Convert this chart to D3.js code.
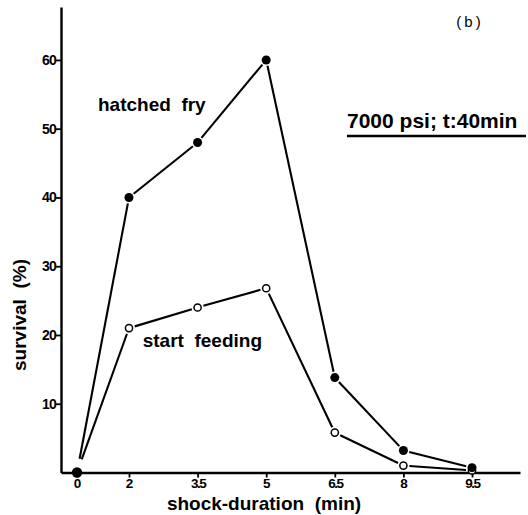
<!DOCTYPE html>
<html><head><meta charset="utf-8">
<script src="https://cdn.jsdelivr.net/npm/d3@7"></script>
<style>
body{margin:0;background:#fff;}
svg{display:block;font-family:"Liberation Sans",Arial,sans-serif;}
</style></head>
<body>
<svg id="chart" width="528" height="515"></svg>
<script>
const durations = [0, 2, 3.5, 5, 6.5, 8, 9.5];
const xTickLabels = ["0", "2", "3.5", "5", "6.5", "8", "9.5"];
const hatchedFry = [0, 40, 48, 60, 13.8, 3.2, 0.7];
const startFeeding = [0, 21, 24, 26.8, 5.8, 1.0, 0.3];
const yTicks = [10, 20, 30, 40, 50, 60];

const svg = d3.select("#chart");
const x = d3.scaleLinear().domain([-0.615, 0, 2, 9.5, 10.55]).range([61, 77, 129, 472, 520]);
const y = d3.scaleLinear().domain([0, 67.7]).range([472.5, 7]);

// axes
const xAxis = d3.axisBottom(x).tickValues(durations)
  .tickFormat((d, i) => xTickLabels[i]).tickSize(5).tickSizeOuter(0).tickPadding(1);
const gx = svg.append("g").attr("transform", "translate(0,472.5)").call(xAxis);
gx.select(".domain").attr("stroke-width", 2.4);
gx.selectAll(".tick line").attr("stroke-width", 1.8);
gx.selectAll(".tick text").attr("font-size", 13.5).attr("font-weight", "bold")
  .attr("font-family", "Liberation Sans, Arial, sans-serif")
  .attr("letter-spacing", (d, i) => xTickLabels[i].length > 1 ? -1.5 : 0);

const yAxis = d3.axisLeft(y).tickValues(yTicks).tickSize(5).tickSizeOuter(0).tickPadding(0);
const gy = svg.append("g").attr("transform", "translate(61,0)").call(yAxis);
gy.select(".domain").attr("stroke-width", 2.4);
gy.selectAll(".tick line").attr("stroke-width", 1.8);
gy.selectAll(".tick text").attr("font-size", 14).attr("font-weight", "bold")
  .attr("font-family", "Liberation Sans, Arial, sans-serif").attr("letter-spacing", -0.8);

// series lines with small gaps near the markers
function drawSeries(vals) {
  const pts = durations.map((d, i) => [x(d), y(vals[i])]);
  const g = svg.append("g");
  for (let i = 0; i < pts.length - 1; i++) {
    const [x1, y1] = pts[i], [x2, y2] = pts[i + 1];
    const len = Math.hypot(x2 - x1, y2 - y1);
    const g1 = i === 0 ? 14 : 6, g2 = 6;
    const ux = (x2 - x1) / len, uy = (y2 - y1) / len;
    g.append("line")
      .attr("x1", x1 + ux * g1).attr("y1", y1 + uy * g1)
      .attr("x2", x2 - ux * g2).attr("y2", y2 - uy * g2)
      .attr("stroke", "#000").attr("stroke-width", 2.1);
  }
  return pts;
}
drawSeries(startFeeding);
drawSeries(hatchedFry);

svg.append("g").selectAll("circle").data(startFeeding).join("circle")
  .attr("cx", (d, i) => x(durations[i])).attr("cy", d => y(d))
  .attr("r", 3.6).attr("fill", "#fff").attr("stroke", "#000").attr("stroke-width", 1.5);
svg.append("g").selectAll("circle").data(hatchedFry).join("circle")
  .attr("cx", (d, i) => x(durations[i])).attr("cy", d => y(d))
  .attr("r", (d, i) => i === 0 ? 5.2 : 4.5).attr("fill", "#000");

// labels
svg.append("text").attr("x", 98).attr("y", 111).attr("font-size", 19).attr("font-weight", "bold")
  .style("white-space", "pre").text("hatched  fry");
svg.append("text").attr("x", 262).attr("y", 347).attr("text-anchor", "end").attr("font-size", 19)
  .attr("font-weight", "bold").style("white-space", "pre").text("start  feeding");
svg.append("text").attr("x", 347).attr("y", 128).attr("font-size", 21)
  .attr("font-weight", "bold").text("7000 psi; t:40min");
svg.append("line").attr("x1", 347).attr("x2", 526).attr("y1", 136).attr("y2", 136)
  .attr("stroke", "#000").attr("stroke-width", 2.6);
svg.append("text").attr("x", 470).attr("y", 27).attr("text-anchor", "middle").attr("font-size", 15)
  .attr("letter-spacing", 3).text("(b)");
svg.append("text").attr("x", 264).attr("y", 510).attr("text-anchor", "middle").attr("font-size", 19)
  .attr("font-weight", "bold").style("white-space", "pre").text("shock-duration  (min)");
svg.append("text").attr("transform", "translate(26,315) rotate(-90)").attr("text-anchor", "middle")
  .attr("font-size", 19).attr("font-weight", "bold").style("white-space", "pre").text("survival  (%)");
</script>
</body></html>
